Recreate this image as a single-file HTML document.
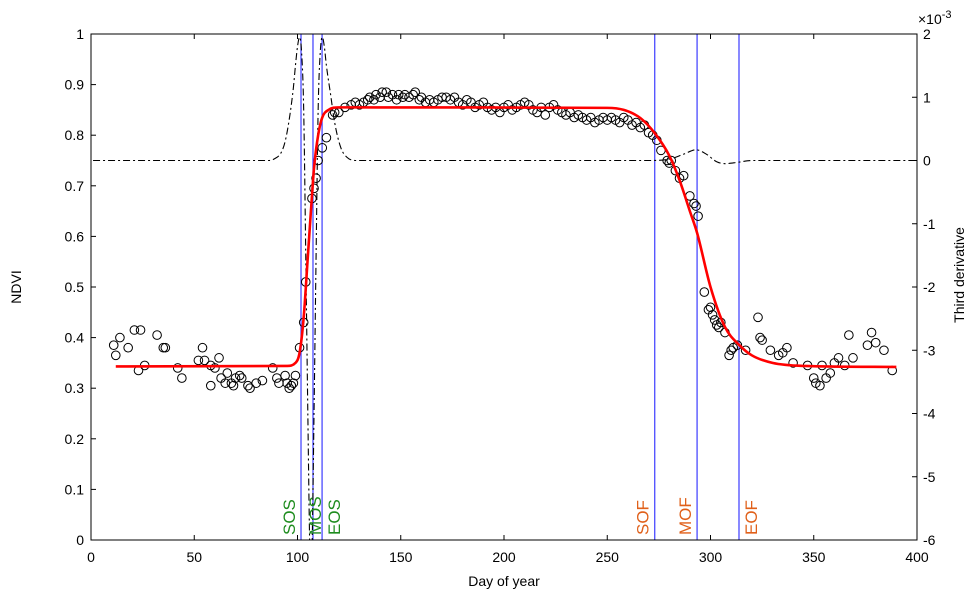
<!DOCTYPE html>
<html><head><meta charset="utf-8"><style>
html,body{margin:0;padding:0;background:#fff;}
svg text{font-family:"Liberation Sans",Arial,sans-serif;}
</style></head><body>
<svg id="chart" width="974" height="599" viewBox="0 0 974 599" xmlns="http://www.w3.org/2000/svg">
<g id="marks"></g>
<g id="axes"></g>
</svg>
<script>
// ---- data ----
const obsDays = [11,12,14,18,21,23,24,26,32,35,36,42,44,52,54,55,58,58,60,62,63,65,66,68,69,70,72,73,76,77,80,83,88,90,91,94,95,96,97,98,99,101,103,104,107,108,109,110,112,114,117,118,
120,123,126,128,130,132,134,135,137,138,140,141,143,144,146,148,149,151,152,154,156,157,159,160,162,164,166,168,170,172,174,176,178,180,182,184,186,188,190,192,194,196,198,200,202,204,206,208,210,212,214,216,218,220,222,224,226,228,230,232,234,236,238,240,242,244,246,248,250,252,254,256,258,260,262,264,266,268,270,
272,274,276,279,280,281,283,285,287,290,292,293,294,297,299,300,301,302,303,304,305,307,309,310,311,313,317,323,324,325,329,333,335,337,340,347,350,351,353,354,356,358,360,362,365,367,369,376,378,380,384,388];
const obsNdvi = [0.385,0.365,0.40,0.38,0.415,0.335,0.415,0.345,0.405,0.38,0.38,0.34,0.32,0.355,0.38,0.355,0.345,0.305,0.34,0.36,0.32,0.31,0.33,0.31,0.305,0.32,0.325,0.32,0.305,0.30,0.31,0.315,0.34,0.32,0.31,0.325,0.31,0.30,0.305,0.31,0.325,0.38,0.43,0.51,0.675,0.695,0.715,0.75,0.775,0.795,0.84,0.845,
0.845,0.855,0.86,0.865,0.86,0.865,0.87,0.875,0.87,0.88,0.875,0.885,0.885,0.875,0.88,0.87,0.88,0.875,0.88,0.875,0.88,0.885,0.87,0.875,0.865,0.87,0.865,0.87,0.875,0.875,0.87,0.875,0.865,0.86,0.87,0.865,0.855,0.86,0.865,0.855,0.85,0.855,0.845,0.855,0.86,0.85,0.855,0.86,0.865,0.86,0.85,0.845,0.855,0.84,0.855,0.86,0.85,0.845,0.84,0.845,0.835,0.84,0.835,0.83,0.835,0.825,0.83,0.835,0.83,0.835,0.83,0.825,0.835,0.83,0.82,0.825,0.815,0.82,0.805,
0.80,0.79,0.77,0.75,0.745,0.75,0.73,0.715,0.72,0.68,0.665,0.66,0.64,0.49,0.455,0.46,0.445,0.435,0.425,0.42,0.43,0.41,0.365,0.375,0.38,0.385,0.375,0.44,0.40,0.395,0.375,0.365,0.37,0.38,0.35,0.345,0.32,0.31,0.305,0.345,0.32,0.33,0.35,0.36,0.345,0.405,0.36,0.385,0.41,0.39,0.375,0.335];
const fitDays = [12,95,99,101,103,105,106,107,108,110,112,115,120,250,258,266,273,280,285,290,293.5,300,307,314,320,330,345,390];
const fitNdvi = [0.343,0.344,0.35,0.37,0.44,0.56,0.62,0.68,0.735,0.80,0.835,0.85,0.855,0.854,0.85,0.834,0.804,0.76,0.711,0.65,0.607,0.50,0.421,0.385,0.365,0.35,0.344,0.342];
const derDays = [1,86,89,92,94,96,98,99,100,101,102,103,104,105,106,106.5,107,108,109,110,111,112,113,114,116,118,121,124,128,270,280,287,293,298,303,307,313,320,399];
const derVals = [0,0,0.03,0.12,0.3,0.65,1.15,1.5,1.8,1.95,1.7,0.8,-1.5,-4,-6.2,-6.5,-6.2,-4,-1.5,0.8,1.7,1.95,1.8,1.5,1.05,0.6,0.2,0.05,0,0,0.02,0.1,0.17,0.1,-0.02,-0.05,-0.03,0,0];
const eventNames = ["SOS","MOS","EOS","SOF","MOF","EOF"];
const eventDays = [101.7,107.5,111.9,273,293.5,313.8];
const xTicks = [0,50,100,150,200,250,300,350,400];
const yTicks = [0,0.1,0.2,0.3,0.4,0.5,0.6,0.7,0.8,0.9,1];
const y2Ticks = [2,1,0,-1,-2,-3,-4,-5,-6];

// ---- scales ----
const L=91,R=917,T=34,B=540;
const xs=d=>L+(d/400)*(R-L);
const ys=v=>B-v*(B-T);
const y2s=v=>T+(2-v)/8*(B-T);
const NS="http://www.w3.org/2000/svg";
const marks=document.getElementById('marks'), axes=document.getElementById('axes');
function mk(tag,attrs,parent){const e=document.createElementNS(NS,tag);for(const k in attrs)e.setAttribute(k,attrs[k]);parent.appendChild(e);return e;}

function monoPath(xa,ya,sx,sy){
  const n=xa.length,d=[],m=[];
  for(let i=0;i<n-1;i++)d.push((ya[i+1]-ya[i])/(xa[i+1]-xa[i]));
  m[0]=d[0];m[n-1]=d[n-2];
  for(let i=1;i<n-1;i++){m[i]=(d[i-1]*d[i]<=0)?0:(d[i-1]+d[i])/2;}
  for(let i=0;i<n-1;i++){
    if(d[i]===0){m[i]=0;m[i+1]=0;continue;}
    const a=m[i]/d[i],b=m[i+1]/d[i],s=a*a+b*b;
    if(s>9){const t=3/Math.sqrt(s);m[i]=t*a*d[i];m[i+1]=t*b*d[i];}
  }
  let p='M'+sx(xa[0]).toFixed(2)+','+sy(ya[0]).toFixed(2);
  for(let i=0;i<n-1;i++){
    const h=(xa[i+1]-xa[i])/3;
    p+='C'+sx(xa[i]+h).toFixed(2)+','+sy(ya[i]+m[i]*h).toFixed(2)+' '+sx(xa[i+1]-h).toFixed(2)+','+sy(ya[i+1]-m[i+1]*h).toFixed(2)+' '+sx(xa[i+1]).toFixed(2)+','+sy(ya[i+1]).toFixed(2);
  }
  return p;
}

const defs=mk('defs',{},marks);
const cp=mk('clipPath',{id:'plotclip'},defs);
mk('rect',{x:L,y:T,width:R-L,height:B-T},cp);
const plot=mk('g',{'clip-path':'url(#plotclip)'},marks);

eventDays.forEach((d,i)=>{
  const l=mk('line',{x1:xs(d),x2:xs(d),y1:T,y2:B,stroke:'#3b3bff','stroke-width':1.2},plot);
  
  
});

const der=mk('path',{d:monoPath(derDays,derVals,xs,y2s),fill:'none',stroke:'#000','stroke-width':1.1,'stroke-dasharray':'7,3,2,3'},plot);



obsDays.forEach((d,i)=>{
  const c=mk('circle',{cx:xs(d),cy:ys(obsNdvi[i]),r:4.3,fill:'none',stroke:'#000','stroke-width':1},plot);
  
  
});

const fit=mk('path',{d:monoPath(fitDays,fitNdvi,xs,ys),fill:'none',stroke:'#ff0000','stroke-width':2.6},plot);



const labelOffsets=[-6,8,18,-6,-6,18];
eventNames.forEach((n,i)=>{
  const x=xs(eventDays[i])+labelOffsets[i];
  const t=mk('text',{x:0,y:0,'font-size':17,fill:i<3?'#1e8c1e':'#e0601a',transform:`translate(${x},535) rotate(-90)`},marks);
  t.textContent=n;
  
  
});

const fr=mk('rect',{x:L,y:T,width:R-L,height:B-T,fill:'none',stroke:'#000','stroke-width':1},axes);



xTicks.forEach(v=>{
  const x=xs(v);
  mk('line',{x1:x,x2:x,y1:B,y2:B-5,stroke:'#000'},axes);
  mk('line',{x1:x,x2:x,y1:T,y2:T+5,stroke:'#000'},axes);
  const t=mk('text',{x:x,y:562,'font-size':14,'text-anchor':'middle',fill:'#000'},axes);
  t.textContent=v;
  
  
});
yTicks.forEach(v=>{
  const y=ys(v);
  mk('line',{x1:L,x2:L+5,y1:y,y2:y,stroke:'#000'},axes);
  const t=mk('text',{x:84,y:y+5,'font-size':14,'text-anchor':'end',fill:'#000'},axes);
  t.textContent=String(+v.toFixed(1));
  
  
});
y2Ticks.forEach(v=>{
  const y=y2s(v);
  mk('line',{x1:R,x2:R-5,y1:y,y2:y,stroke:'#000'},axes);
  const t=mk('text',{x:923,y:y+5,'font-size':14,'text-anchor':'start',fill:'#000'},axes);
  t.textContent=v;
  
  
});
</script>
<svg style="position:absolute;left:0;top:0" width="974" height="599">
<text x="504" y="586" font-size="14" text-anchor="middle" font-family="Liberation Sans, sans-serif">Day of year</text>
<text transform="translate(21,287) rotate(-90)" font-size="14" text-anchor="middle" font-family="Liberation Sans, sans-serif">NDVI</text>
<text transform="translate(964,275) rotate(-90)" font-size="14" text-anchor="middle" font-family="Liberation Sans, sans-serif">Third derivative</text>
<text x="918" y="24" font-size="14" font-family="Liberation Sans, sans-serif">×10<tspan dy="-6" font-size="11">-3</tspan></text>
</svg>
</body></html>
